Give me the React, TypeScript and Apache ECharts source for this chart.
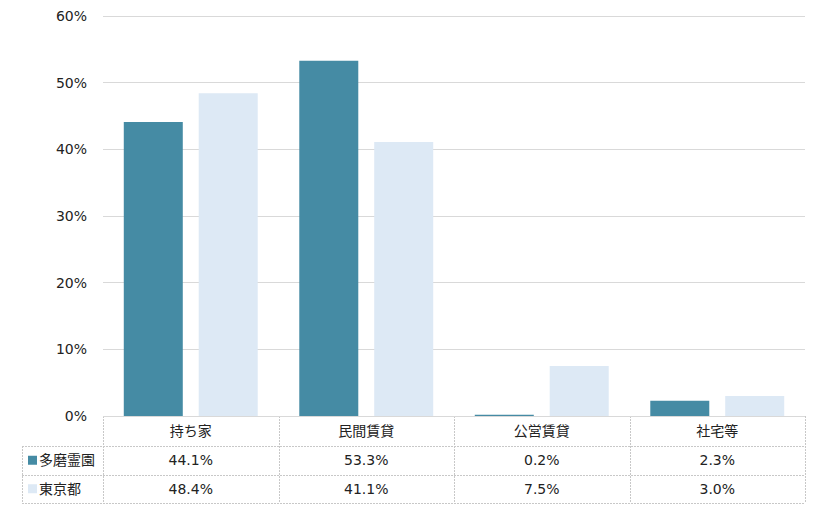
import React, { useEffect, useRef } from "react";
import * as echarts from "echarts";

const categories = ["持ち家", "民間賃貸", "公営賃貸", "社宅等"];
const seriesNames = ["多磨霊園", "東京都"];
const tamaValues = [44.1, 53.3, 0.2, 2.3];
const tokyoValues = [48.4, 41.1, 7.5, 3.0];
const colors = ["#458ba4", "#dde9f5"];

const W = 820;
const H = 510;
const GRID_LEFT = 103;
const GRID_RIGHT = 15;
const GRID_TOP = 16;
const GRID_BOTTOM = 94;
const TABLE_LEFT = 22;
const HEADER_H = 30;
const ROW_H = 28.5;
const FONT = "'DejaVu Sans', 'Noto Sans CJK JP', sans-serif";
const BORDER = "#c8c8c8";
const TEXT = "#222";

export default function App() {
  const ref = useRef<HTMLDivElement>(null);
  useEffect(() => {
    if (!ref.current) return;
    const chart = echarts.init(ref.current, null, { renderer: "svg" });
    const plotRight = W - GRID_RIGHT;
    const plotBottom = H - GRID_BOTTOM;
    const colW = (plotRight - GRID_LEFT) / categories.length;
    const rows = [tamaValues, tokyoValues];
    const graphics: any[] = [];
    const line = (x1: number, y1: number, x2: number, y2: number) => ({
      type: "line",
      shape: { x1, y1, x2, y2 },
      style: { stroke: BORDER, lineWidth: 1, lineDash: [2, 1] },
      silent: true,
    });
    const tableBottom = plotBottom + HEADER_H + ROW_H * rows.length;
    graphics.push(line(GRID_LEFT, plotBottom + 0.5, plotRight, plotBottom + 0.5));
    for (let r = 0; r <= rows.length; r++) {
      const y = Math.round(plotBottom + HEADER_H + ROW_H * r) + 0.5;
      graphics.push(line(TABLE_LEFT, y, plotRight, y));
    }
    graphics.push(line(TABLE_LEFT + 0.5, plotBottom + HEADER_H, TABLE_LEFT + 0.5, tableBottom));
    for (let c = 0; c <= categories.length; c++) {
      const x = Math.round(GRID_LEFT + colW * c) + 0.5;
      graphics.push(line(x, plotBottom, x, tableBottom));
    }
    rows.forEach((vals, r) => {
      const cy = plotBottom + HEADER_H + ROW_H * r + ROW_H / 2;
      graphics.push({
        type: "rect",
        shape: { x: 28, y: cy - 4.5, width: 9, height: 9 },
        style: { fill: colors[r] },
        silent: true,
      });
      graphics.push({
        type: "text",
        x: 39,
        y: cy,
        style: {
          text: seriesNames[r],
          font: `14px ${FONT}`,
          fill: TEXT,
          verticalAlign: "middle",
          align: "left",
        },
        silent: true,
      });
      vals.forEach((v, c) => {
        graphics.push({
          type: "text",
          x: GRID_LEFT + colW * c + colW / 2,
          y: cy,
          style: {
            text: v.toFixed(1) + "%",
            font: `14px ${FONT}`,
            fill: TEXT,
            align: "center",
            verticalAlign: "middle",
          },
          silent: true,
        });
      });
    });

    chart.setOption({
      animation: false,
      grid: { left: GRID_LEFT, right: GRID_RIGHT, top: GRID_TOP, bottom: GRID_BOTTOM, containLabel: false },
      xAxis: {
        type: "category",
        data: categories,
        axisLine: { show: false },
        axisTick: { show: false },
        axisLabel: {
          margin: 8,
          fontSize: 14,
          fontFamily: FONT,
          color: TEXT,
        },
      },
      yAxis: {
        type: "value",
        min: 0,
        max: 60,
        interval: 10,
        axisLine: { show: false },
        axisTick: { show: false },
        splitLine: { lineStyle: { color: "#d9d9d9", width: 1 } },
        axisLabel: {
          formatter: "{value}%",
          fontSize: 14,
          fontFamily: FONT,
          color: TEXT,
          margin: 16,
        },
      },
      series: [
        {
          name: seriesNames[0],
          type: "bar",
          data: tamaValues,
          barWidth: 59,
          barGap: "27%",
          itemStyle: { color: colors[0] },
        },
        {
          name: seriesNames[1],
          type: "bar",
          data: tokyoValues,
          barWidth: 59,
          barGap: "27%",
          itemStyle: { color: colors[1] },
        },
      ],
      graphic: graphics,
    });
    return () => chart.dispose();
  }, []);
  return (
    <div
      ref={ref}
      style={{ position: "fixed", left: 0, top: 0, width: W, height: H, background: "#fff" }}
    />
  );
}
